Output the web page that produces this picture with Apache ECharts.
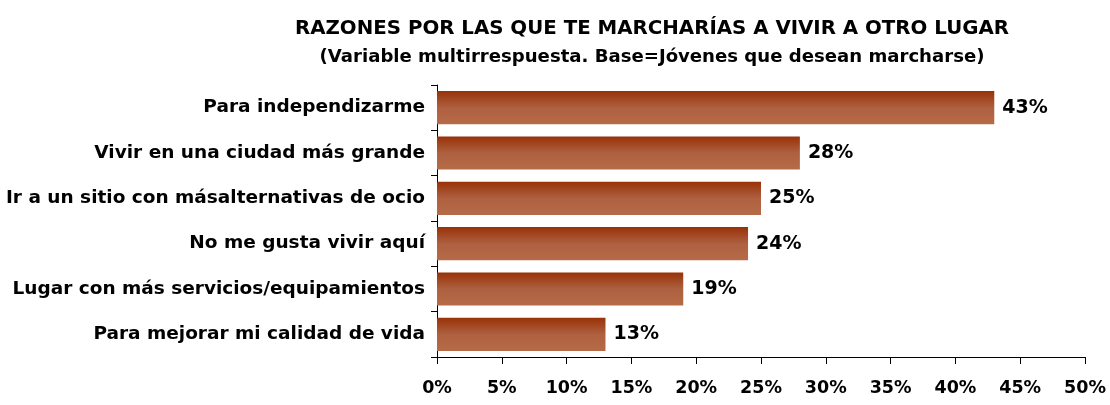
<!DOCTYPE html>
<html><head><meta charset="utf-8">
<script src="https://cdn.jsdelivr.net/npm/echarts@6/dist/echarts.min.js"></script>
<style>html,body{margin:0;padding:0;background:#fff}#c{width:1110px;height:405px}</style>
</head><body><div id="c"></div>
<script>
const titleText = 'RAZONES POR LAS QUE TE MARCHARÍAS A VIVIR A OTRO LUGAR';
const subtitleText = '(Variable multirrespuesta. Base=Jóvenes que desean marcharse)';
const categories = ['Para independizarme','Vivir en una ciudad más grande','Ir a un sitio con másalternativas de ocio','No me gusta vivir aquí','Lugar con más servicios/equipamientos','Para mejorar mi calidad de vida'];
const values = [43, 28, 25, 24, 19, 13];
const xTicks = [0,5,10,15,20,25,30,35,40,45,50];

const font = '"DejaVu Sans", sans-serif';
const chart = echarts.init(document.getElementById('c'));
chart.setOption({
  animation: false,
  title: {
    text: titleText, subtext: subtitleText, left: 647, textAlign: 'center', top: 14, itemGap: 9,
    textStyle: {fontFamily: font, fontWeight: 'bold', fontSize: 19.8, color: '#000'},
    subtextStyle: {fontFamily: font, fontWeight: 'bold', fontSize: 18.1, color: '#000'}
  },
  grid: {left: 437, right: 25, top: 85, bottom: 48, containLabel: false},
  xAxis: {
    type: 'value', min: 0, max: 50, interval: 5,
    axisLine: {show: true, lineStyle: {color: '#000', width: 1}},
    axisTick: {show: true, length: 7, lineStyle: {color: '#000'}},
    splitLine: {show: false},
    axisLabel: {margin: 22, fontFamily: font, fontWeight: 'bold', fontSize: 17.5, color: '#000',
      formatter: v => xTicks.includes(v) ? v + '%' : ''}
  },
  yAxis: {
    type: 'category', data: categories, inverse: true,
    axisLine: {show: true, lineStyle: {color: '#000', width: 1}},
    axisTick: {show: true, length: 6, lineStyle: {color: '#000'}},
    axisLabel: {margin: 12, fontFamily: font, fontWeight: 'bold', fontSize: 18.5, color: '#000'}
  },
  series: [{
    type: 'bar', data: values, barCategoryGap: '27%',
    itemStyle: {color: new echarts.graphic.LinearGradient(0,0,0,1,[
      {offset: 0, color: '#983208'}, {offset: 0.5, color: '#ae6040'}, {offset: 1, color: '#b66b47'}])},
    label: {show: true, position: 'right', distance: 8, formatter: '{c}%',
      fontFamily: font, fontWeight: 'bold', fontSize: 19, color: '#000'}
  }]
});
</script></body></html>
